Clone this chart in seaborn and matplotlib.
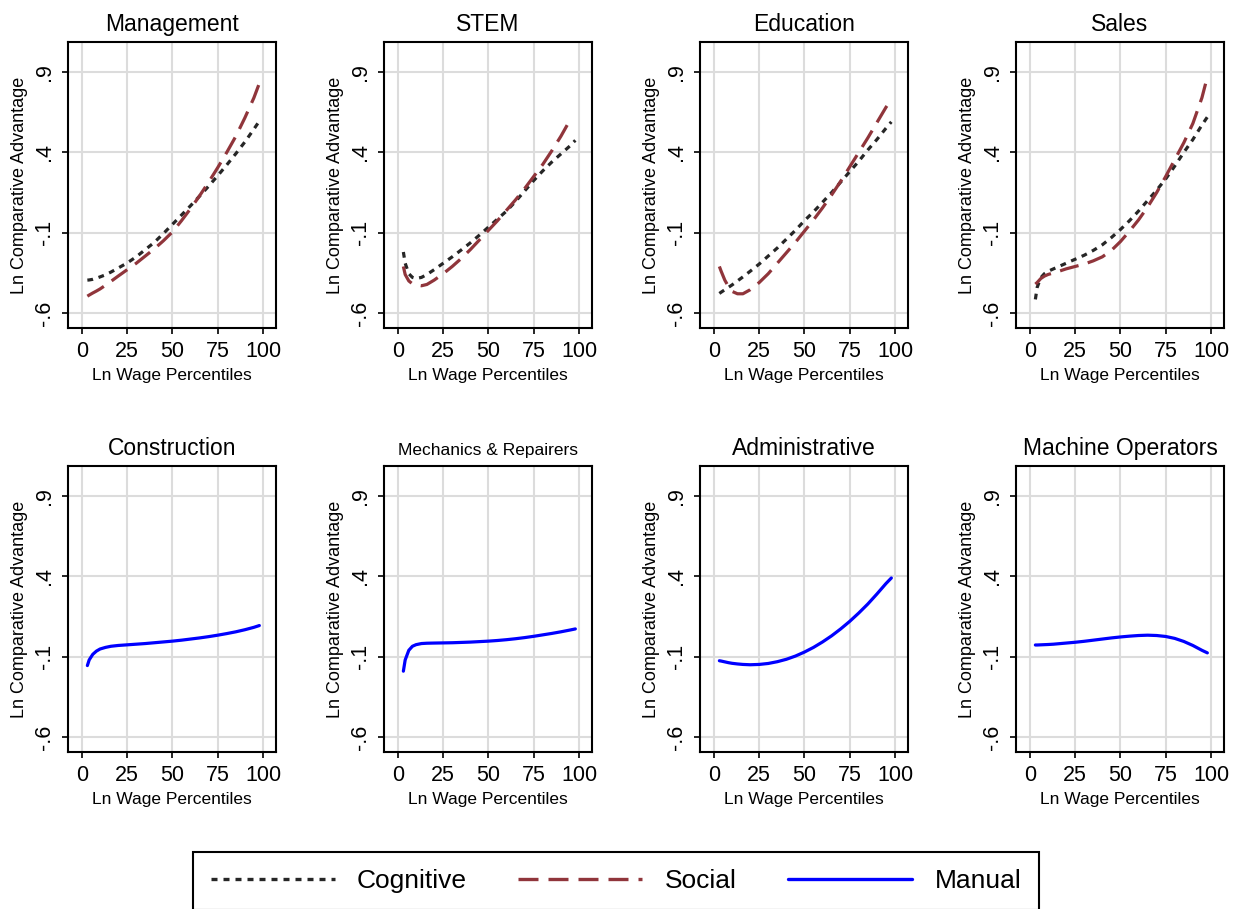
import numpy as np
import pandas as pd
import matplotlib
matplotlib.use("Agg")
import matplotlib.pyplot as plt
from matplotlib.lines import Line2D
import seaborn as sns

nan = np.nan

# wage percentiles (x grid)
pct = [3, 4, 6, 8, 10, 13, 16, 20, 25, 30, 35, 40, 45, 50, 55, 60, 65, 70, 75, 80, 85, 90, 95, 98]

occupations = ["Management", "STEM", "Education", "Sales",
               "Construction", "Mechanics & Repairers", "Administrative", "Machine Operators"]

# top row: cognitive / social
management_cog = [-0.395, -0.394, -0.39, -0.383, -0.375, -0.362, -0.345, -0.32, -0.288, -0.25, -0.205, -0.16,
                  -0.105, -0.048, 0.01, 0.068, 0.128, 0.19, 0.255, 0.322, 0.392, 0.465, 0.545, 0.595]
management_soc = [-0.495, -0.488, -0.475, -0.463, -0.45, -0.427, -0.403, -0.37, -0.33, -0.29, -0.245, -0.2,
                  -0.15, -0.095, -0.025, 0.05, 0.13, 0.215, 0.305, 0.4, 0.5, 0.615, 0.74, 0.83]
stem_cog = [-0.22, -0.29, -0.355, -0.378, -0.385, -0.378, -0.36, -0.33, -0.29, -0.25, -0.207, -0.163,
            -0.115, -0.065, -0.015, 0.035, 0.095, 0.16, 0.225, 0.285, 0.34, 0.39, 0.44, 0.475]
stem_soc = [-0.31, -0.36, -0.4, -0.418, -0.425, -0.43, -0.422, -0.395, -0.355, -0.31, -0.26, -0.205,
            -0.145, -0.085, -0.025, 0.04, 0.105, 0.175, 0.25, 0.325, 0.41, 0.5, 0.6, nan]
education_cog = [-0.478, -0.47, -0.455, -0.44, -0.425, -0.4, -0.375, -0.34, -0.295, -0.245, -0.195, -0.14,
                 -0.085, -0.025, 0.03, 0.09, 0.15, 0.215, 0.28, 0.345, 0.415, 0.48, 0.55, 0.59]
education_soc = [-0.31, -0.34, -0.395, -0.435, -0.465, -0.48, -0.48, -0.455, -0.41, -0.355, -0.29, -0.225,
                 -0.16, -0.09, -0.02, 0.055, 0.135, 0.22, 0.31, 0.4, 0.49, 0.585, 0.68, 0.73]
sales_cog = [-0.515, -0.44, -0.38, -0.355, -0.34, -0.325, -0.31, -0.29, -0.265, -0.24, -0.21, -0.175,
             -0.13, -0.08, -0.025, 0.035, 0.1, 0.165, 0.235, 0.315, 0.4, 0.48, 0.57, 0.62]
sales_soc = [-0.42, -0.41, -0.385, -0.37, -0.36, -0.35, -0.34, -0.325, -0.31, -0.295, -0.275, -0.25,
             -0.21, -0.155, -0.09, -0.02, 0.06, 0.15, 0.25, 0.355, 0.46, 0.58, 0.74, 0.87]

# bottom row: manual
construction_man = [-0.155, -0.12, -0.085, -0.065, -0.052, -0.042, -0.035, -0.03, -0.026, -0.022, -0.018, -0.013,
                    -0.008, -0.003, 0.003, 0.01, 0.017, 0.025, 0.034, 0.044, 0.055, 0.068, 0.083, 0.094]
mechanics_man = [-0.19, -0.12, -0.06, -0.035, -0.025, -0.018, -0.016, -0.015, -0.014, -0.013, -0.011, -0.009,
                 -0.006, -0.003, 0.001, 0.006, 0.012, 0.019, 0.027, 0.036, 0.045, 0.055, 0.066, 0.073]
administrative_man = [-0.125, -0.127, -0.132, -0.137, -0.141, -0.145, -0.148, -0.15, -0.148, -0.142, -0.131, -0.116,
                      -0.096, -0.071, -0.042, -0.008, 0.03, 0.073, 0.12, 0.172, 0.228, 0.29, 0.355, 0.39]
machine_man = [-0.027, -0.027, -0.026, -0.025, -0.024, -0.022, -0.019, -0.015, -0.01, -0.004, 0.003, 0.01,
               0.017, 0.023, 0.028, 0.032, 0.034, 0.032, 0.026, 0.014, -0.005, -0.03, -0.06, -0.076]

curves = {
    "Management": {"Cognitive": management_cog, "Social": management_soc},
    "STEM": {"Cognitive": stem_cog, "Social": stem_soc},
    "Education": {"Cognitive": education_cog, "Social": education_soc},
    "Sales": {"Cognitive": sales_cog, "Social": sales_soc},
    "Construction": {"Manual": construction_man},
    "Mechanics & Repairers": {"Manual": mechanics_man},
    "Administrative": {"Manual": administrative_man},
    "Machine Operators": {"Manual": machine_man},
}

rows = []
for occ, series in curves.items():
    for name, vals in series.items():
        for p, v in zip(pct, vals):
            rows.append((occ, name, p, v))
df = pd.DataFrame(rows, columns=["occupation", "series", "pct", "value"]).dropna()

sns.set_theme(style="whitegrid")
plt.rcParams["font.family"] = ["Liberation Sans", "DejaVu Sans"]
plt.rcParams["text.color"] = "black"

colors = {"Cognitive": "#262626", "Social": "#90353b", "Manual": "#0000ff"}
dashes = {"Cognitive": (1.8, 1.8), "Social": (6.0, 3.0), "Manual": ""}

W, H = 1239, 909
fig = plt.figure(figsize=(W / 100, H / 100), dpi=100)
lefts = [68, 384, 700, 1016]
tops = [42, 466]
box_w, box_h = 208, 286

for i, occ in enumerate(occupations):
    r, c = divmod(i, 4)
    ax = fig.add_axes([lefts[c] / W, 1 - (tops[r] + box_h) / H, box_w / W, box_h / H])
    sub = df[df["occupation"] == occ]
    sns.lineplot(data=sub, x="pct", y="value", hue="series", style="series",
                 palette=colors, dashes=dashes, linewidth=2.3, legend=False, ax=ax)

    ax.set_xlim(-7.7, 107.2)
    ax.set_ylim(-0.693, 1.087)
    ax.set_xticks([0, 25, 50, 75, 100])
    ax.set_xticklabels(["0", "25", "50", "75", "100"])
    ax.set_yticks([-0.6, -0.1, 0.4, 0.9])
    ax.set_yticklabels(["-.6", "-.1", ".4", ".9"], rotation=90, va="center")
    ax.tick_params(axis="both", which="major", direction="out", length=4.5, width=1.2,
                   color="black", labelsize=15.5, labelcolor="black", bottom=True, left=True, pad=5)
    ax.grid(True, color="#dcdcdc", linewidth=1.5)
    ax.set_axisbelow(True)
    for sp in ax.spines.values():
        sp.set_visible(True)
        sp.set_color("black")
        sp.set_linewidth(1.5)
    ax.set_xlabel("Ln Wage Percentiles", fontsize=12.5, color="black", labelpad=4)
    ax.set_ylabel("Ln Comparative Advantage", fontsize=13, color="black", labelpad=4)
    title_size = 12.5 if occ == "Mechanics & Repairers" else 16.5
    ax.set_title(occ, fontsize=title_size, color="black", pad=8)

handles = [
    Line2D([], [], color=colors["Cognitive"], lw=2.4, dashes=(1.8, 1.8)),
    Line2D([], [], color=colors["Social"], lw=2.4, dashes=(6, 3)),
    Line2D([], [], color=colors["Manual"], lw=2.4),
]
leg = fig.legend(handles, ["Cognitive", "Social", "Manual"], loc="center",
                 bbox_to_anchor=(616 / W, 1 - 881 / H), ncol=3, fontsize=19,
                 frameon=True, fancybox=False, framealpha=1, edgecolor="black",
                 labelcolor="black", handlelength=4.7, handletextpad=0.85,
                 columnspacing=1.95, borderpad=0.65)
leg.get_frame().set_linewidth(1.5)

fig.savefig("out.png", dpi=100, facecolor="white")
